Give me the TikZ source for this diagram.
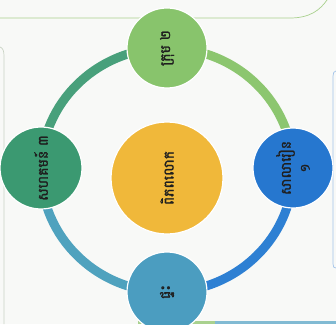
\documentclass[tikz,border=0pt]{standalone}
\usepackage{fontspec}
\newfontfamily\khmerfont[Script=Khmer,FakeBold=1.5]{Battambang}
\definecolor{pagebg}{HTML}{F8F9F7}
\definecolor{cyellow}{HTML}{F0B83A}
\definecolor{ctop}{HTML}{88C46C}
\definecolor{cright}{HTML}{2677CF}
\definecolor{cbottom}{HTML}{4B9DC0}
\definecolor{cleft}{HTML}{3B9971}
\definecolor{rtl}{HTML}{48A07B}
\definecolor{rtr}{HTML}{8CC66F}
\definecolor{rbr}{HTML}{2E80D3}
\definecolor{rbl}{HTML}{4FA2BE}
\definecolor{lgreen}{HTML}{A9D18E}
\definecolor{lblue}{HTML}{A3C4EA}
\definecolor{lgray}{HTML}{C9D3C4}
\begin{document}
\begin{tikzpicture}[x=1pt,y=1pt,
  bubble/.style={circle, draw=white, line width=1.2pt, minimum size=#1, inner sep=0pt,
    font=\khmerfont\fontsize{14}{19}\selectfont, text=black!88, align=center, rotate=90},
  ringarc/.style={line width=9pt},
  border/.style={line width=0.7pt}]
\useasboundingbox (0,0) rectangle (336,324);
\fill[pagebg] (0,0) rectangle (336,324);
\begin{scope}
\clip (0,0) rectangle (336,324);
% page borders
\draw[border, lgreen] (0,306) -- (290,306) .. controls (310,306) and (320,314) .. (327,324);
\draw[border, lgray] (0,277) .. controls (3,276) and (4,273) .. (4,268) -- (4,0);
\draw[border, lblue] (336,253) .. controls (334,253) and (333,251) .. (333,248) -- (333,60) .. controls (333,57) and (334,56) .. (336,56);
\fill[lgreen] (138,0) rectangle (215,3);
\fill[cbottom!70] (215,0) rectangle (336,3.5);
% ring
\coordinate (rc) at (167,154);
\draw[ringarc, rtr] (rc) ++(0:126 and 122) arc[start angle=0, end angle=90, x radius=126, y radius=122];
\draw[ringarc, rtl] (rc) ++(90:126 and 122) arc[start angle=90, end angle=180, x radius=126, y radius=122];
\draw[ringarc, rbl] (rc) ++(180:126 and 122) arc[start angle=180, end angle=270, x radius=126, y radius=122];
\draw[ringarc, rbr] (rc) ++(270:126 and 122) arc[start angle=270, end angle=360, x radius=126, y radius=122];
% circles
\node[bubble=112, fill=cyellow] (mid) at (167,146) {ពិភពលោក};
\node[bubble=80, fill=ctop] (top) at (167,276) {ក្រុម ២};
\node[bubble=80, fill=cright] (right) at (293,156) {សាលារៀន\\១};
\node[bubble=82, fill=cleft] (left) at (41,156) {សហគមន៍ ៣};
\node[bubble=80, fill=cbottom] (bottom) at (167,32) {ផ្ទះ};
\end{scope}
\end{tikzpicture}
\end{document}
